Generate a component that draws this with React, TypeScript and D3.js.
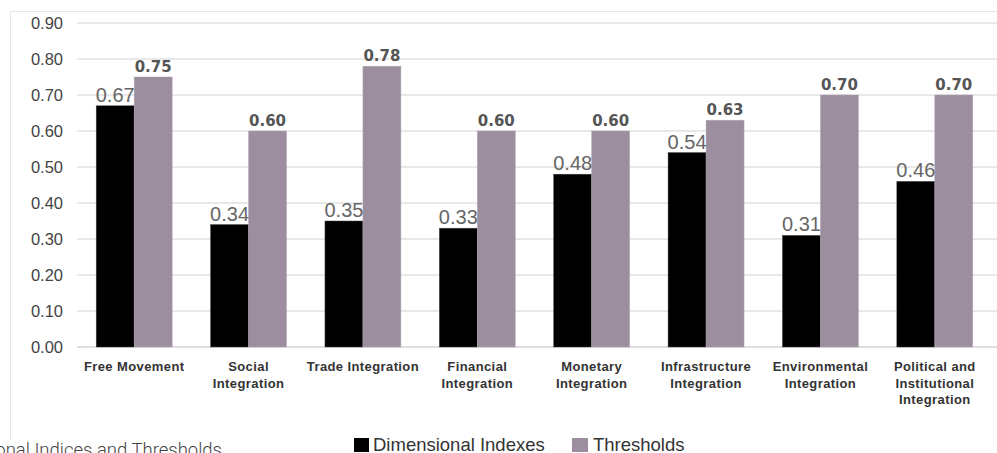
import React from "react";
import * as d3 from "d3";

const categories: string[][] = [
  ["Free Movement"],
  ["Social", "Integration"],
  ["Trade Integration"],
  ["Financial", "Integration"],
  ["Monetary", "Integration"],
  ["Infrastructure", "Integration"],
  ["Environmental", "Integration"],
  ["Political and", "Institutional", "Integration"],
];
const dimensional: number[] = [0.67, 0.34, 0.35, 0.33, 0.48, 0.54, 0.31, 0.46];
const thresholds: number[] = [0.75, 0.6, 0.78, 0.6, 0.6, 0.63, 0.7, 0.7];
const yTicks: number[] = [0, 0.1, 0.2, 0.3, 0.4, 0.5, 0.6, 0.7, 0.8, 0.9];
const seriesNames: string[] = ["Dimensional Indexes", "Thresholds"];
const title = "Dimensional Indices and Thresholds";

const W = 997;
const H = 453;
const BLACK = "#000000";
const GREY = "#9c8d9f";

export default function App() {
  const keys = categories.map((c, i) => String(i));
  const x = d3
    .scaleBand<string>()
    .domain(keys)
    .range([77, 992])
    .paddingInner(0.336)
    .paddingOuter(0.168);
  const sub = d3
    .scaleBand<string>()
    .domain(["d", "t"])
    .range([0, x.bandwidth()]);
  const y = d3.scaleLinear().domain([0, 0.9]).range([347, 23]);
  const bw = sub.bandwidth();

  return (
    <svg
      width={W}
      height={H}
      style={{ position: "absolute", left: 0, top: 0, background: "#fff" }}
    >
      {/* frame */}
      <line x1={10.5} x2={10.5} y1={11} y2={440} stroke="#e6e6e6" strokeWidth={1} />
      <line x1={10} x2={W} y1={11.5} y2={11.5} stroke="#e6e6e6" strokeWidth={1} />

      {/* grid & y ticks */}
      {yTicks.map((t) => (
        <g key={t}>
          <line
            x1={77}
            x2={W}
            y1={y(t)}
            y2={y(t)}
            stroke={t === 0 ? "#d4d4d4" : "#e0e0e0"}
            strokeWidth={1.5}
          />
          <text
            x={63}
            y={y(t) + 6}
            textAnchor="end"
            fontFamily="Liberation Sans, Arial, sans-serif"
            fontSize={16.5}
            fill="#444"
          >
            {t.toFixed(2)}
          </text>
        </g>
      ))}

      {/* bars */}
      {keys.map((k, i) => {
        const x0 = x(k)!;
        const xd = x0 + sub("d")!;
        const xt = x0 + sub("t")!;
        return (
          <g key={k}>
            <rect
              x={xd}
              y={y(dimensional[i])}
              width={bw}
              height={y(0) - y(dimensional[i])}
              fill={BLACK}
              stroke="#444"
              strokeWidth={0.5}
            />
            <rect
              x={xt}
              y={y(thresholds[i])}
              width={bw}
              height={y(0) - y(thresholds[i])}
              fill={GREY}
              stroke="#b3a7b5"
              strokeWidth={0.5}
            />
            <text
              x={xd + bw / 2}
              y={y(dimensional[i]) - 4}
              textAnchor="middle"
              fontFamily="Liberation Sans, Arial, sans-serif"
              fontSize={20}
              fill="#666"
            >
              {dimensional[i].toFixed(2)}
            </text>
            <text
              x={xt + bw / 2}
              y={y(thresholds[i]) - 5}
              textAnchor="middle"
              fontFamily="DejaVu Sans, sans-serif"
              fontWeight="bold"
              fontSize={15}
              fill="#555"
            >
              {thresholds[i].toFixed(2)}
            </text>
            <text
              x={x0 + x.bandwidth() / 2}
              y={371}
              textAnchor="middle"
              fontFamily="Liberation Sans, Arial, sans-serif"
              fontWeight="bold"
              fontSize={13}
              letterSpacing={0.4}
              fill="#333"
            >
              {categories[i].map((line, j) => (
                <tspan key={j} x={x0 + x.bandwidth() / 2} dy={j === 0 ? 0 : 16.7}>
                  {line}
                </tspan>
              ))}
            </text>
          </g>
        );
      })}

      {/* title (cut at left, as in the reference) */}
      <text
        x={222}
        y={456}
        textAnchor="end"
        fontFamily="Roboto, sans-serif"
        fontWeight={300}
        fontSize={18.5}
        fill="#444"
      >
        {title}
      </text>

      {/* legend */}
      <rect x={354} y={438} width={15} height={14} fill={BLACK} />
      <text
        x={373}
        y={451}
        fontFamily="Liberation Sans, Arial, sans-serif"
        fontSize={18.5}
        fill="#333"
      >
        {seriesNames[0]}
      </text>
      <rect x={572} y={438} width={16} height={14} fill={GREY} />
      <text
        x={593}
        y={451}
        fontFamily="Liberation Sans, Arial, sans-serif"
        fontSize={18.5}
        fill="#333"
      >
        {seriesNames[1]}
      </text>
    </svg>
  );
}
